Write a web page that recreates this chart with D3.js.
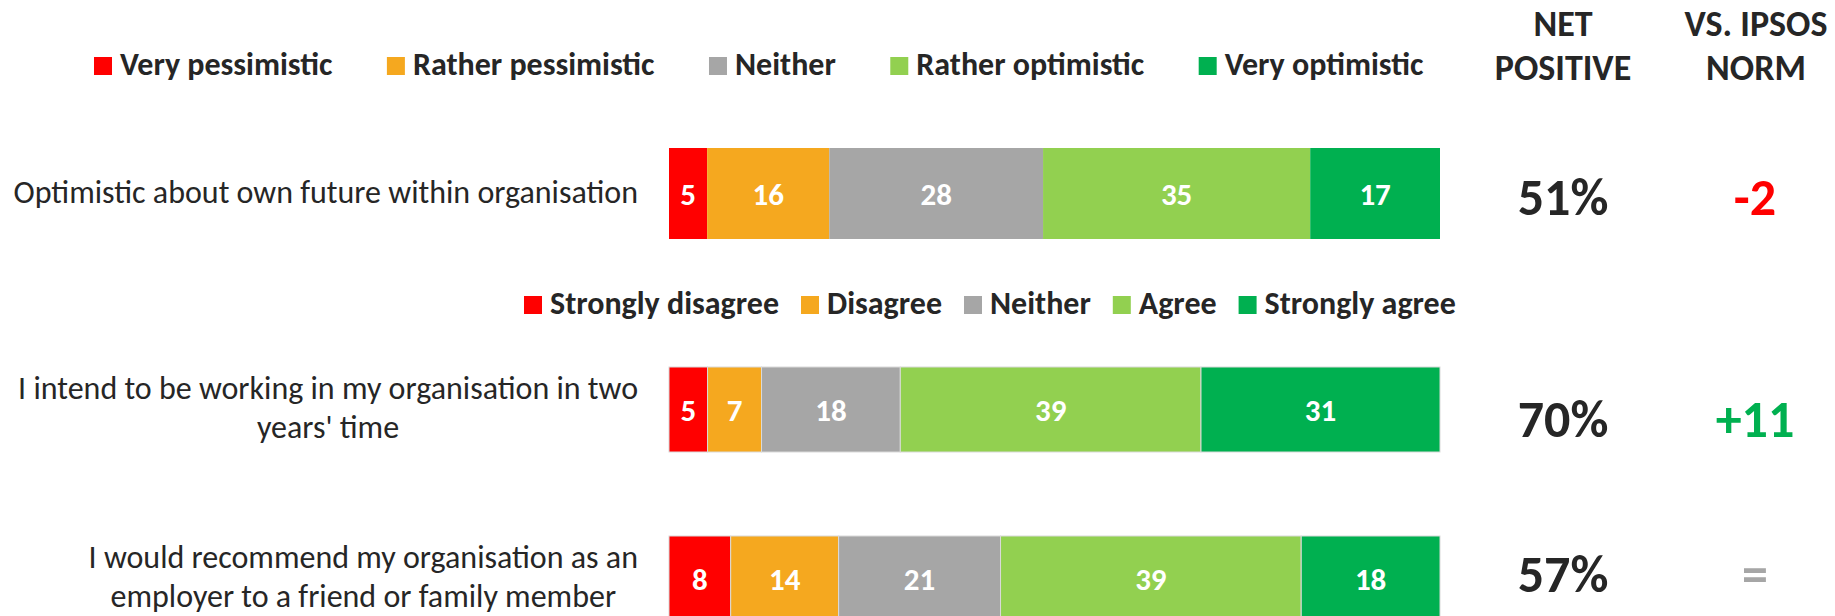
<!DOCTYPE html>
<html>
<head>
<meta charset="utf-8">
<script src="https://cdn.jsdelivr.net/npm/d3@7"></script>
<style>
  body { margin: 0; background: #fff; }
  text { font-family: Carlito, Calibri, Lato, sans-serif; }
</style>
</head>
<body>
<svg id="chart" width="1835" height="616"></svg>
<script>
// ---------------- DATA ----------------
const questions = [
  "Optimistic about own future within organisation",
  "I intend to be working in my organisation in two years' time",
  "I would recommend my organisation as an employer to a friend or family member"
];
const questionLines = [
  ["Optimistic about own future within organisation"],
  ["I intend to be working in my organisation in two", "years' time"],
  ["I would recommend my organisation as an", "employer to a friend or family member"]
];
const optimismScale = ["Very pessimistic", "Rather pessimistic", "Neither", "Rather optimistic", "Very optimistic"];
const agreeScale = ["Strongly disagree", "Disagree", "Neither", "Agree", "Strongly agree"];
const optimisticValues = [5, 16, 28, 35, 17];
const workingValues = [5, 7, 18, 39, 31];
const recommendValues = [8, 14, 21, 39, 18];
const netPositive = [51, 70, 57];
const vsNorm = [-2, 11, 0];
const headers = [["NET", "POSITIVE"], ["VS. IPSOS", "NORM"]];

// ---------------- STYLE / LAYOUT ----------------
const segColors = ["#FF0000", "#F5A81F", "#A6A6A6", "#92D050", "#00B050"];
const textColor = "#262626";
const rows = [optimisticValues, workingValues, recommendValues];

const svg = d3.select("#chart");

const color = d3.scaleOrdinal().domain(d3.range(5)).range(segColors);
const rowTop = d3.scaleOrdinal().domain(questions).range([148, 367, 536]);
const rowHeight = d3.scaleOrdinal().domain(questions).range([91, 85, 85]);
const barX0 = 669, barX1 = 1440;

// ---------------- LEGENDS ----------------
function drawLegend(items, x0, baseline, gap) {
  const g = svg.append("g");
  let x = x0;
  items.forEach((name, i) => {
    g.append("rect")
      .attr("x", x).attr("y", baseline - 18)
      .attr("width", 18).attr("height", 18)
      .attr("fill", color(i));
    const t = g.append("text")
      .attr("x", x + 26).attr("y", baseline)
      .attr("font-size", 32).attr("font-weight", 700)
      .attr("fill", textColor)
      .text(name);
    x = x + 26 + t.node().getComputedTextLength() + gap;
  });
}
drawLegend(optimismScale, 94, 75, 54.5);
drawLegend(agreeScale, 524, 314, 22);

// ---------------- HEADERS ----------------
const colX = [1563, 1756];
headers.forEach((lines, c) => {
  lines.forEach((ln, j) => {
    svg.append("text")
      .attr("x", colX[c]).attr("y", 36 + j * 44)
      .attr("text-anchor", "middle")
      .attr("font-size", 36).attr("font-weight", 700)
      .attr("fill", textColor)
      .text(ln);
  });
});

// ---------------- BARS ----------------
rows.forEach((vals, r) => {
  const q = questions[r];
  const total = d3.sum(vals);
  const x = d3.scaleLinear().domain([0, total]).range([barX0, barX1]);
  const stacked = [];
  let acc = 0;
  vals.forEach((v, i) => { stacked.push({ i, v, start: acc, end: acc + v }); acc += v; });
  const y0 = rowTop(q), h = rowHeight(q);
  const g = svg.append("g");
  g.selectAll("rect").data(stacked).join("rect")
    .attr("x", d => x(d.start))
    .attr("y", y0)
    .attr("width", d => x(d.end) - x(d.start))
    .attr("height", h)
    .attr("fill", d => color(d.i))
    .attr("stroke", r === 0 ? "none" : "#DADADA")
    .attr("stroke-width", 1);
  g.selectAll("text").data(stacked).join("text")
    .attr("x", d => (x(d.start) + x(d.end)) / 2)
    .attr("y", y0 + h / 2 + 11)
    .attr("text-anchor", "middle")
    .attr("font-size", 31).attr("font-weight", 700)
    .attr("fill", "#FFFFFF")
    .text(d => d.v);

  // category label (multi-line block right-aligned, lines centred)
  const lines = questionLines[r];
  const lg = svg.append("g");
  const tmp = lines.map(l => lg.append("text").attr("font-size", 32).attr("fill", textColor).text(l));
  const maxW = d3.max(tmp, t => t.node().getComputedTextLength());
  const cx = 638 - maxW / 2;
  const cy = y0 + h / 2;
  const lineGap = 39;
  const firstBase = lines.length === 1 ? cy + 9.5 : cy - 11;
  tmp.forEach((t, j) => {
    t.attr("x", cx).attr("y", firstBase + j * lineGap).attr("text-anchor", "middle");
  });
});

// ---------------- NET POSITIVE & NORM ----------------
const valueOffsets = [21.5, 27.5, 13.5];
questions.forEach((q, r) => {
  const cy = rowTop(q) + rowHeight(q) / 2 + valueOffsets[r];
  svg.append("text")
    .attr("x", colX[0]).attr("y", cy)
    .attr("text-anchor", "middle")
    .attr("font-size", 52).attr("font-weight", 700)
    .attr("fill", textColor)
    .text(netPositive[r] + "%");
  const v = vsNorm[r];
  svg.append("text")
    .attr("x", colX[1] - 1).attr("y", cy)
    .attr("text-anchor", "middle")
    .attr("font-size", 52).attr("font-weight", 700)
    .attr("fill", v < 0 ? "#FF0000" : v > 0 ? "#00B050" : "#A6A6A6")
    .text(v < 0 ? String(v) : v > 0 ? "+" + v : "=");
});
</script>
</body>
</html>
